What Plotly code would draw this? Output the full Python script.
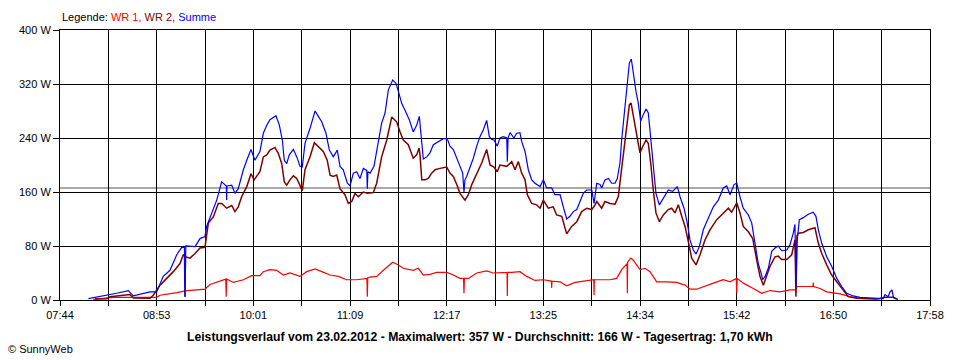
import plotly.graph_objects as go

# ---------------- data (times in minutes after midnight, power in W) -------------
x_tick_labels = ["07:44", "08:53", "10:01", "11:09", "12:17", "13:25",
                 "14:34", "15:42", "16:50", "17:58"]
y_tick_values = [0, 80, 160, 240, 320, 400]
y_tick_labels = ["0 W", "80 W", "160 W", "240 W", "320 W", "400 W"]
t_start, t_end = 464, 1078
avg_w = 166

t_sum = [484.0, 492.2, 504.0, 512.2, 515.7, 527.5, 532.2, 536.9, 541.6, 546.4,
         549.9, 551.8, 552.2, 552.8, 559.3, 562.8, 566.3, 567.5, 571.1, 574.6,
         578.1, 581.4, 581.6, 581.8, 585.2, 587.5, 589.8, 593.4, 595.8, 598.8,
         601.6, 605.1, 607.5, 609.9, 612.2, 616.4, 618.8, 620.9, 622.3, 624.0,
         625.8, 628.7, 631.1, 633.4, 635.0, 636.9, 640.4, 644.0, 646.3, 648.7,
         651.7, 654.1, 656.9, 659.7, 661.6, 663.9, 666.8, 668.7, 671.0, 673.4,
         675.7, 678.1, 680.5, 680.9, 681.3, 682.8, 685.6, 688.6, 691.0, 693.4,
         695.7, 698.8, 701.1, 702.8, 705.2, 707.5, 710.5, 713.3, 715.7, 717.6,
         719.3, 720.4, 722.8, 725.1, 727.5, 731.0, 734.5, 737.3, 739.2, 741.6,
         744.0, 746.3, 748.2, 749.1, 749.8, 751.0, 753.4, 755.7, 758.1, 760.4,
         762.7, 765.1, 767.0, 768.7, 770.3, 772.6, 774.5, 776.9, 779.3, 779.7,
         780.2, 781.6, 784.4, 786.3, 788.6, 789.8, 792.2, 794.5, 796.9, 799.2,
         802.8, 805.1, 807.5, 811.0, 813.3, 816.9, 819.2, 821.6, 823.9, 826.3,
         828.7, 831.0, 833.3, 835.7, 839.3, 840.9, 842.8, 845.1, 846.3, 848.6,
         851.0, 853.4, 855.7, 857.3, 859.2, 860.4, 862.7, 864.4, 865.8, 867.2,
         868.6, 870.5, 872.1, 873.8, 875.7, 877.6, 879.2, 880.9, 882.7, 884.6,
         887.0, 889.8, 893.3, 896.4, 899.7, 901.6, 904.4, 906.7, 908.6, 911.0,
         912.9, 915.2, 918.0, 921.5, 925.1, 928.6, 932.1, 934.5, 936.9, 939.7,
         941.6, 943.9, 946.2, 949.8, 952.2, 954.5, 956.8, 959.2, 959.9, 961.6,
         963.9, 966.3, 968.6, 970.9, 973.3, 976.9, 979.2, 981.5, 982.7, 983.4,
         984.1, 985.8, 988.6, 992.1, 995.6, 997.5, 999.2, 1001.6, 1005.1, 1008.6,
         1012.2, 1015.7, 1019.2, 1023.9, 1028.6, 1038.0, 1045.0, 1046.2, 1048.4, 1049.8,
         1051.2, 1052.2, 1054.5]
p_sum = [2, 5, 10, 14, 6, 12, 12, 35, 44, 67,
         78, 78, 5, 80, 79, 91, 94, 109, 128, 148,
         175, 169, 148, 169, 170, 158, 165, 193, 207, 223,
         207, 220, 247, 259, 267, 273, 259, 237, 207, 202,
         215, 223, 212, 198, 197, 232, 254, 280, 272, 264,
         247, 222, 212, 222, 198, 193, 173, 169, 188, 190,
         180, 195, 192, 165, 190, 188, 198, 237, 262, 277,
         311, 326, 321, 309, 291, 281, 267, 249, 259, 272,
         237, 209, 212, 218, 230, 235, 239, 239, 228, 223,
         210, 198, 188, 160, 178, 183, 197, 210, 228, 242,
         252, 266, 242, 238, 237, 228, 240, 242, 240, 205,
         240, 248, 240, 247, 248, 235, 220, 193, 178, 173,
         168, 178, 166, 166, 156, 156, 138, 120, 124, 131,
         134, 146, 158, 163, 163, 143, 173, 171, 166, 178,
         180, 173, 173, 180, 203, 237, 282, 316, 351, 357,
         336, 309, 292, 265, 275, 283, 277, 242, 203, 158,
         141, 151, 163, 161, 168, 153, 136, 114, 89, 74,
         68, 79, 104, 121, 138, 148, 166, 169, 156, 171,
         173, 153, 136, 126, 114, 84, 54, 37, 30, 35,
         47, 72, 77, 80, 73, 74, 82, 99, 112, 20,
         84, 119, 122, 127, 130, 124, 104, 84, 64, 50,
         32, 20, 10, 6, 4, 3, 2, 8, 5, 12,
         15, 4, 1]

t_wr2 = [488.7, 497.0, 499.3, 513.4, 515.7, 527.5, 529.8, 534.6, 539.3, 544.0,
         548.7, 551.0, 551.9, 552.2, 552.5, 555.7, 559.3, 562.8, 566.3, 568.7,
         572.2, 575.7, 578.1, 581.6, 585.2, 587.5, 589.8, 592.2, 595.8, 598.8,
         601.0, 602.8, 605.1, 607.5, 609.9, 612.2, 615.7, 618.1, 620.5, 622.3,
         624.0, 626.3, 628.7, 631.1, 633.4, 635.0, 636.9, 640.4, 643.5, 646.3,
         649.8, 652.6, 654.6, 656.9, 659.3, 661.6, 665.1, 667.5, 669.9, 672.2,
         674.5, 678.1, 680.9, 685.1, 687.5, 691.0, 694.6, 698.1, 701.6, 704.0,
         706.3, 709.8, 713.3, 715.7, 717.4, 718.1, 719.3, 721.6, 723.9, 726.3,
         728.7, 732.2, 736.9, 739.2, 741.6, 744.0, 746.3, 749.8, 752.2, 754.6,
         758.1, 761.6, 765.1, 767.5, 770.3, 772.6, 774.5, 779.3, 782.8, 785.1,
         787.5, 789.8, 792.2, 793.8, 796.9, 800.4, 802.8, 805.1, 808.6, 812.1,
         814.5, 818.1, 821.6, 825.1, 828.7, 832.2, 835.7, 839.3, 841.6, 842.8,
         846.3, 848.6, 852.2, 855.7, 858.0, 859.7, 861.6, 864.0, 865.8, 867.0,
         868.6, 871.0, 873.3, 875.2, 877.6, 879.2, 880.9, 882.7, 884.6, 887.0,
         889.8, 893.3, 895.7, 898.0, 900.4, 902.8, 905.1, 907.4, 909.8, 912.9,
         915.7, 919.2, 922.7, 927.5, 932.1, 935.7, 938.0, 941.6, 943.9, 946.2,
         949.8, 952.9, 955.7, 958.0, 960.4, 962.8, 965.1, 968.6, 970.9, 973.3,
         976.9, 980.4, 982.7, 983.4, 984.1, 985.0, 988.6, 992.1, 996.8, 999.2,
         1001.6, 1005.1, 1008.6, 1012.2, 1016.8, 1020.3, 1026.3, 1041.3, 1046.2, 1051.9,
         1055.4]
p_wr2 = [1.5, 2, 5, 8, 3, 2.5, 7, 22, 32, 42,
         54, 67, 66, 5, 64, 62, 69, 77, 78, 114,
         123, 143, 143, 136, 140, 131, 138, 153, 168, 187,
         178, 183, 190, 212, 215, 222, 226, 217, 202, 175,
         170, 178, 184, 180, 168, 162, 193, 212, 233, 227,
         220, 207, 185, 183, 185, 165, 156, 143, 146, 158,
         153, 160, 158, 159, 173, 212, 237, 271, 264, 249,
         237, 230, 210, 215, 225, 215, 178, 178, 180, 188,
         193, 195, 197, 188, 183, 171, 158, 148, 156, 171,
         188, 203, 223, 200, 197, 190, 200, 198, 205, 193,
         205, 188, 178, 156, 143, 141, 136, 148, 136, 138,
         126, 124, 98, 109, 116, 131, 136, 134, 141, 146,
         136, 146, 143, 142, 153, 183, 218, 257, 289, 292,
         272, 247, 218, 227, 237, 232, 203, 163, 129, 116,
         126, 134, 136, 129, 141, 124, 109, 87, 62, 52,
         67, 89, 104, 119, 129, 136, 130, 144, 129, 109,
         101, 91, 59, 35, 22, 35, 50, 64, 65, 60,
         60, 67, 89, 5, 95, 99, 100, 104, 107, 84,
         69, 52, 37, 27, 15, 5, 2.5, 1.5, 4, 4,
         1]

t_wr1 = [487.5, 501.6, 532.2, 534.6, 546.4, 553.4, 560.5, 566.3, 569.9, 576.9,
         581.0, 581.3, 581.6, 586.3, 593.4, 599.3, 605.1, 607.5, 612.2, 616.9,
         621.6, 626.3, 633.4, 638.1, 644.0, 648.7, 654.6, 660.4, 666.3, 673.4,
         680.6, 680.9, 681.2, 682.8, 687.5, 692.2, 698.8, 702.8, 706.3, 713.3,
         716.9, 720.4, 725.1, 729.9, 736.9, 741.6, 746.3, 748.8, 749.1, 749.4,
         752.2, 758.1, 765.1, 769.8, 775.7, 779.5, 779.7, 779.9, 782.8, 788.6,
         793.4, 799.2, 805.1, 810.8, 811.0, 811.2, 816.9, 821.6, 827.5, 833.3,
         839.3, 840.7, 840.9, 841.1, 845.1, 852.2, 856.9, 860.4, 864.2, 864.4,
         864.6, 866.8, 868.6, 873.3, 876.9, 880.4, 885.1, 892.2, 899.2, 905.1,
         908.6, 913.3, 919.2, 925.1, 932.1, 936.9, 941.3, 941.6, 941.9, 946.2,
         953.3, 959.2, 965.1, 972.1, 979.2, 983.1, 984.3, 993.3, 995.4, 995.6,
         995.8, 1000.4, 1005.1, 1014.5, 1021.5, 1028.6, 1040.4]
p_wr1 = [1, 4, 4, 7, 11, 14, 15, 16, 23, 28,
         31, 5, 31, 26, 30, 36, 36, 42, 45, 44,
         37, 40, 35, 42, 46, 42, 37, 35, 30, 30,
         32, 5, 33, 34, 35, 44, 56, 52, 47, 44,
         47, 37, 38, 41, 41, 37, 32, 32, 10, 32,
         32, 40, 43, 40, 41, 41, 6, 41, 41, 42,
         35, 29, 30, 28, 18, 28, 27, 21, 26, 28,
         30, 30, 7, 30, 30, 30, 32, 45, 54, 10,
         56, 62, 59, 45, 47, 42, 27, 27, 26, 22,
         16, 16, 20, 25, 30, 27, 32, 10, 32, 25,
         17, 10, 14, 12, 15, 15, 20, 20, 20, 26,
         20, 17, 12, 9, 5, 2.5, 1.5]

# ---------------- figure ----------------
FONT = "Liberation Sans, Arial, sans-serif"
RED, MAROON, BLUE = "#ff0000", "#800000", "#0000ff"

fig = go.Figure()
fig.add_trace(go.Scatter(x=t_wr1, y=p_wr1, mode="lines", name="WR 1",
                         line=dict(color=RED, width=1.2)))
fig.add_trace(go.Scatter(x=t_wr2, y=p_wr2, mode="lines", name="WR 2",
                         line=dict(color=MAROON, width=1.5)))
fig.add_trace(go.Scatter(x=t_sum, y=p_sum, mode="lines", name="Summe",
                         line=dict(color=BLUE, width=1.2)))

n = len(x_tick_labels) - 1
major = [t_start + k * (t_end - t_start) / n for k in range(n + 1)]

fig.add_shape(type="line", xref="paper", x0=0, x1=1, yref="y", y0=avg_w, y1=avg_w,
              line=dict(color="#8c8c8c", width=1.5), layer="below")

fig.update_xaxes(range=[t_start, t_end], tickmode="array", tickvals=major,
                 ticktext=x_tick_labels, showgrid=True, gridcolor="black", gridwidth=1,
                 ticks="outside", ticklen=5, tickcolor="black",
                 showline=True, linecolor="black", linewidth=1, mirror=True,
                 zeroline=False,
                 minor=dict(tick0=t_start, dtick=(t_end - t_start) / (2 * n),
                            showgrid=True, gridcolor="black", gridwidth=1,
                            ticks="outside", ticklen=5, tickcolor="black"),
                 tickfont=dict(family=FONT, size=11, color="black"))
fig.update_yaxes(range=[0, 400], tickmode="array", tickvals=y_tick_values,
                 ticktext=y_tick_labels, showgrid=True, gridcolor="black", gridwidth=1,
                 ticks="outside", ticklen=6, tickcolor="black",
                 showline=True, linecolor="black", linewidth=1, mirror=True,
                 zeroline=False,
                 tickfont=dict(family=FONT, size=11, color="black"))

fig.add_annotation(xref="paper", yref="paper", x=0.0, y=1.048, xanchor="left",
                   yanchor="middle", showarrow=False,
                   text=("Legende: <span style='color:%s'>WR 1,</span> "
                         "<span style='color:%s'>WR 2,</span> "
                         "<span style='color:%s'>Summe</span>") % (RED, MAROON, BLUE),
                   font=dict(family=FONT, size=11, color="black"))
fig.add_annotation(xref="paper", yref="paper", x=0.483, y=-0.137, xanchor="center",
                   yanchor="middle", showarrow=False,
                   text=("<b>Leistungsverlauf vom 23.02.2012 - Maximalwert: 357 W - "
                         "Durchschnitt: 166 W - Tagesertrag: 1,70 kWh</b>"),
                   font=dict(family=FONT, size=12.2, color="black"))
fig.add_annotation(xref="paper", yref="paper", x=-0.0625, y=-0.181, xanchor="left",
                   yanchor="middle", showarrow=False, text="© SunnyWeb",
                   font=dict(family=FONT, size=11, color="black"))

# the page adds an 8 px body margin, so the figure is sized to fit inside it
fig.update_layout(width=952, height=352, showlegend=False,
                  margin=dict(l=52, r=30, t=22, b=60),
                  plot_bgcolor="white", paper_bgcolor="white",
                  font=dict(family=FONT, size=11, color="black"))

fig.write_html("out.html")
